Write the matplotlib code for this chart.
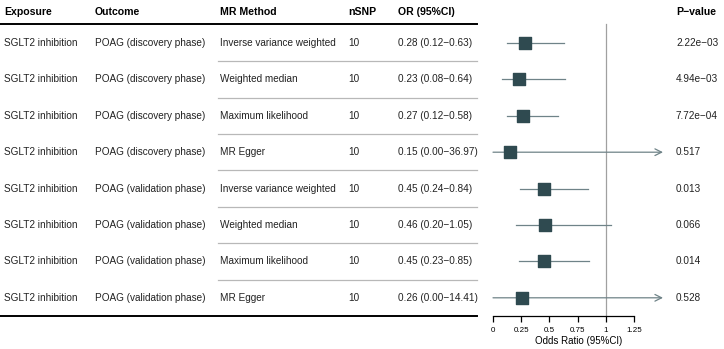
import matplotlib
matplotlib.use("Agg")
import matplotlib.pyplot as plt

plt.rcParams['font.family'] = ['Liberation Sans', 'DejaVu Sans']

# data
exposure = ["SGLT2 inhibition"] * 8
outcome = ["POAG (discovery phase)"] * 4 + ["POAG (validation phase)"] * 4
method = ["Inverse variance weighted", "Weighted median", "Maximum likelihood", "MR Egger"] * 2
nsnp = [10] * 8
or_val = [0.28, 0.23, 0.27, 0.15, 0.45, 0.46, 0.45, 0.26]
ci_lo = [0.12, 0.08, 0.12, 0.00, 0.24, 0.20, 0.23, 0.00]
ci_hi = [0.63, 0.64, 0.58, 36.97, 0.84, 1.05, 0.85, 14.41]
pvals = ["2.22e\u221203", "4.94e\u221203", "7.72e\u221204", "0.517", "0.013", "0.066", "0.014", "0.528"]
ticks = [0, 0.25, 0.5, 0.75, 1, 1.25]

W, H = 724, 349
fig = plt.figure(figsize=(W / 100, H / 100), dpi=100)

# table layer in pixel coordinates
bg = fig.add_axes([0, 0, 1, 1])
bg.set_xlim(0, W)
bg.set_ylim(H, 0)
bg.axis('off')

row_y = [43 + i * 36.4 for i in range(8)]
col_x = [4, 95, 220, 348, 398]
fs = 7.2

headers = ["Exposure", "Outcome", "MR Method", "nSNP", "OR (95%CI)"]
for x, h in zip(col_x, headers):
    bg.text(x, 12, h, fontsize=7.6, fontweight='bold', va='center', ha='left')
bg.text(676, 12, "P\u2212value", fontsize=7.6, fontweight='bold', va='center', ha='left')

bg.plot([0, 477], [24, 24], color='black', lw=1.4)
bg.plot([0, 477], [316, 316], color='black', lw=1.4)

for i, y in enumerate(row_y):
    or_txt = f"{or_val[i]:.2f} ({ci_lo[i]:.2f}\u2212{ci_hi[i]:.2f})"
    vals = [exposure[i], outcome[i], method[i], str(nsnp[i]), or_txt]
    for x, t in zip(col_x, vals):
        bg.text(x, y, t, fontsize=fs, va='center', ha='left', color='#222222')
    bg.text(676, y, pvals[i], fontsize=fs, va='center', ha='left', color='#222222')
    if i < 7:
        ym = y + 18.2
        bg.plot([218, 477], [ym, ym], color='#b8b8b8', lw=0.9)

# forest layer
ppu = 112.8
left_px, right_px = 477, 680
x0 = 493
ybot = 316
ax = fig.add_axes([left_px / W, (H - ybot) / H, (right_px - left_px) / W, ybot / H])
ax.set_xlim((left_px - x0) / ppu, (right_px - x0) / ppu)
ax.set_ylim(ybot, 0)
ax.patch.set_alpha(0)
for s in ['top', 'right', 'left']:
    ax.spines[s].set_visible(False)
ax.spines['bottom'].set_bounds(0, 1.25)
ax.spines['bottom'].set_linewidth(0.9)
ax.set_yticks([])
ax.set_xticks(ticks)
ax.set_xticklabels(["0", "0.25", "0.5", "0.75", "1", "1.25"], fontsize=5.8)
ax.tick_params(axis='x', length=4, width=0.9, pad=4)
ax.set_xlabel("Odds Ratio (95%CI)", fontsize=7, labelpad=1.5)

ax.axvline(1, ymin=0, ymax=(ybot - 24) / ybot, color='#a0a0a0', lw=0.9, zorder=1)

xmax_clip = (663 - x0) / ppu
line_col = '#6f8388'
box_col = '#2f4a50'
for i, y in enumerate(row_y):
    hi = ci_hi[i]
    if hi > xmax_clip:
        ax.annotate("", xy=(xmax_clip, y), xytext=(ci_lo[i], y),
                    arrowprops=dict(arrowstyle='->', color=line_col, lw=0.9,
                                    shrinkA=0, shrinkB=0, mutation_scale=12))
    else:
        ax.plot([ci_lo[i], hi], [y, y], color=line_col, lw=0.9, zorder=2)
    ax.scatter([or_val[i]], [y], marker='s', s=78, color=box_col, zorder=3)

fig.savefig("out.png", dpi=100)
